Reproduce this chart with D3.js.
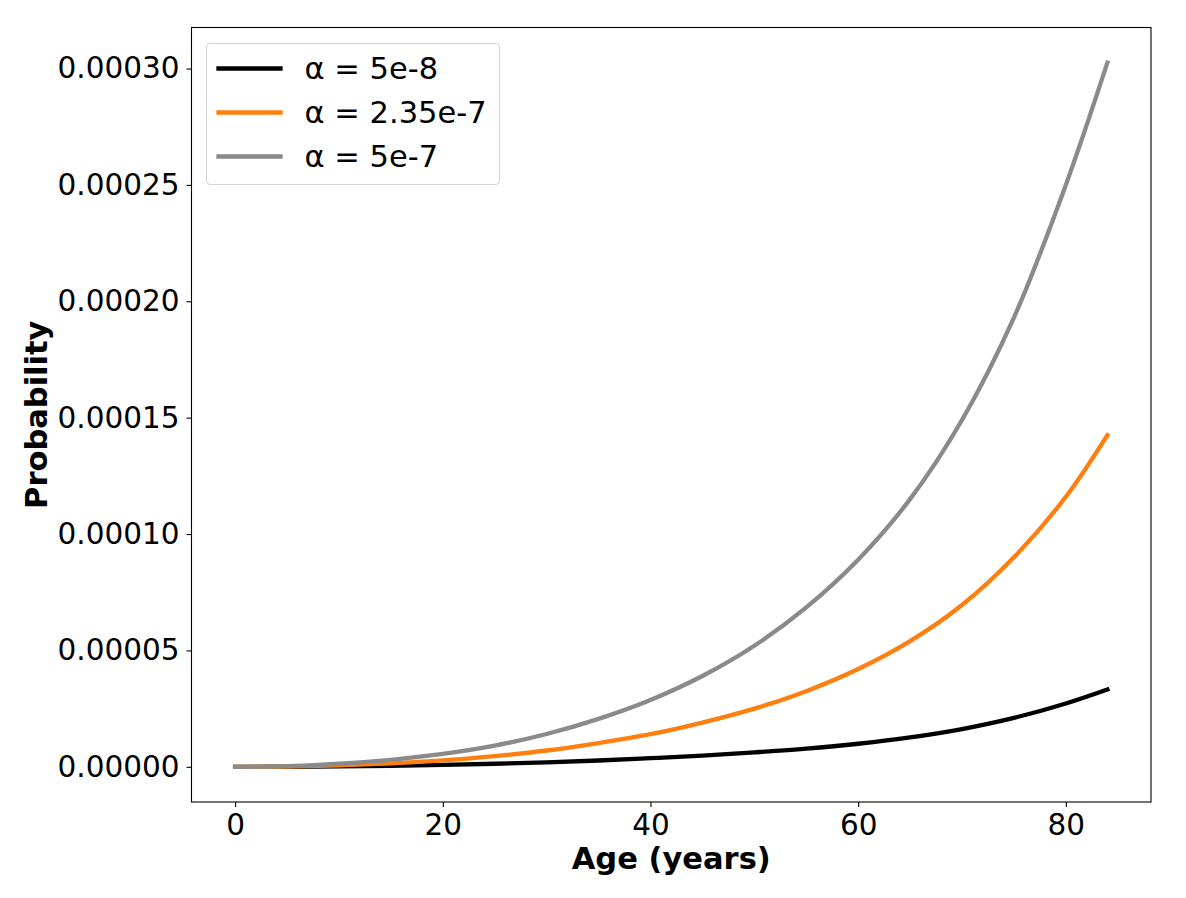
<!DOCTYPE html>
<html>
<head>
<meta charset="utf-8">
<script src="https://cdn.jsdelivr.net/npm/d3@7"></script>
<style>
  body { margin: 0; background: #fff; }
  svg { display: block; font-family: "DejaVu Sans", sans-serif; }
</style>
</head>
<body>
<div id="chart"></div>
<script>
// Probability vs age for three alpha values (x 1e-5)
const ages = [0, 5, 10, 15, 20, 25, 30, 35, 40, 45, 50, 55, 60, 65, 70, 75, 80, 84];
const alphaLow  = [0, 0.003, 0.015, 0.04, 0.08, 0.13, 0.19, 0.27, 0.37, 0.48, 0.62, 0.78, 0.99, 1.26, 1.62, 2.1, 2.72, 3.32];
const alphaMid  = [0, 0.01, 0.06, 0.15, 0.28, 0.46, 0.7, 1.02, 1.4, 1.9, 2.5, 3.25, 4.2, 5.4, 6.95, 9.0, 11.6, 14.25];
const alphaHigh = [0, 0.025, 0.13, 0.3, 0.555, 0.91, 1.41, 2.06, 2.87, 3.9, 5.2, 6.85, 8.9, 11.5, 14.9, 19.3, 25.0, 30.25];
const seriesNames = ["α = 5e-8", "α = 2.35e-7", "α = 5e-7"];
const xTicks = [0, 20, 40, 60, 80];
const yTicks = [0, 0.00005, 0.0001, 0.00015, 0.0002, 0.00025, 0.0003];

const width = 1186, height = 898;
const margin = {top: 27.5, right: 35, bottom: 96, left: 191.5};
const tickFont = 29.5, labelFont = 30.5;
const colors = ["#000000", "#ff7f0e", "#8a8a8a"];

const series = [alphaLow, alphaMid, alphaHigh].map((vals, i) => ({
  name: seriesNames[i],
  color: colors[i],
  values: ages.map((a, j) => ({age: a, p: vals[j] * 1e-5}))
}));

const svg = d3.select("#chart").append("svg")
  .attr("width", width).attr("height", height);

// matplotlib style 5% padding
const xExt = d3.extent(ages);
const xPad = (xExt[1] - xExt[0]) * 0.05;
const allP = series.flatMap(s => s.values.map(d => d.p));
const yExt = d3.extent(allP);
const yPad = (yExt[1] - yExt[0]) * 0.05;

const x = d3.scaleLinear().domain([xExt[0] - xPad, xExt[1] + xPad])
  .range([margin.left, width - margin.right]);
const y = d3.scaleLinear().domain([yExt[0] - yPad, yExt[1] + yPad])
  .range([height - margin.bottom, margin.top]);

// axes
const xAxis = svg.append("g").attr("transform", `translate(0,${height - margin.bottom})`)
  .call(d3.axisBottom(x).tickValues(xTicks).tickSize(5).tickPadding(7).tickFormat(d3.format("d")));
const yAxis = svg.append("g").attr("transform", `translate(${margin.left},0)`)
  .call(d3.axisLeft(y).tickValues(yTicks).tickSize(5).tickPadding(7).tickFormat(d3.format(".5f")));
[xAxis, yAxis].forEach(g => {
  g.select(".domain").remove();
  g.selectAll(".tick line").attr("stroke", "#000").attr("stroke-width", 1.1);
  g.selectAll("text").attr("font-size", tickFont).attr("fill", "#000")
    .attr("font-family", "DejaVu Sans");
});

// curves
const line = d3.line().x(d => x(d.age)).y(d => y(d.p)).curve(d3.curveCatmullRom.alpha(0.5));
svg.append("g").selectAll("path").data(series).join("path")
  .attr("fill", "none").attr("stroke", d => d.color).attr("stroke-width", 4.3)
  .attr("stroke-linecap", "square")
  .attr("d", d => line(d.values));

// frame
svg.append("rect").attr("x", margin.left).attr("y", margin.top)
  .attr("width", width - margin.left - margin.right)
  .attr("height", height - margin.top - margin.bottom)
  .attr("fill", "none").attr("stroke", "#000").attr("stroke-width", 1.1);

// axis titles
svg.append("text").attr("x", (margin.left + width - margin.right) / 2).attr("y", 869)
  .attr("text-anchor", "middle").attr("font-size", labelFont).attr("font-weight", "bold")
  .text("Age (years)");
svg.append("text").attr("transform", `translate(47,${(margin.top + height - margin.bottom) / 2}) rotate(-90)`)
  .attr("text-anchor", "middle").attr("font-size", labelFont).attr("font-weight", "bold")
  .text("Probability");

// legend
const legend = svg.append("g").attr("transform", "translate(206.5,43.5)");
legend.append("rect").attr("width", 293).attr("height", 141).attr("rx", 4)
  .attr("fill", "#fff").attr("fill-opacity", 0.8).attr("stroke", "#d6d6d6").attr("stroke-width", 1.1);
series.forEach((s, i) => {
  const ly = 25 + i * 44;
  legend.append("line").attr("x1", 12).attr("x2", 74).attr("y1", ly).attr("y2", ly)
    .attr("stroke", s.color).attr("stroke-width", 4.3).attr("stroke-linecap", "square");
  legend.append("text").attr("x", 98).attr("y", ly).attr("dy", "0.36em")
    .attr("font-size", labelFont).text(s.name);
});
</script>
</body>
</html>
